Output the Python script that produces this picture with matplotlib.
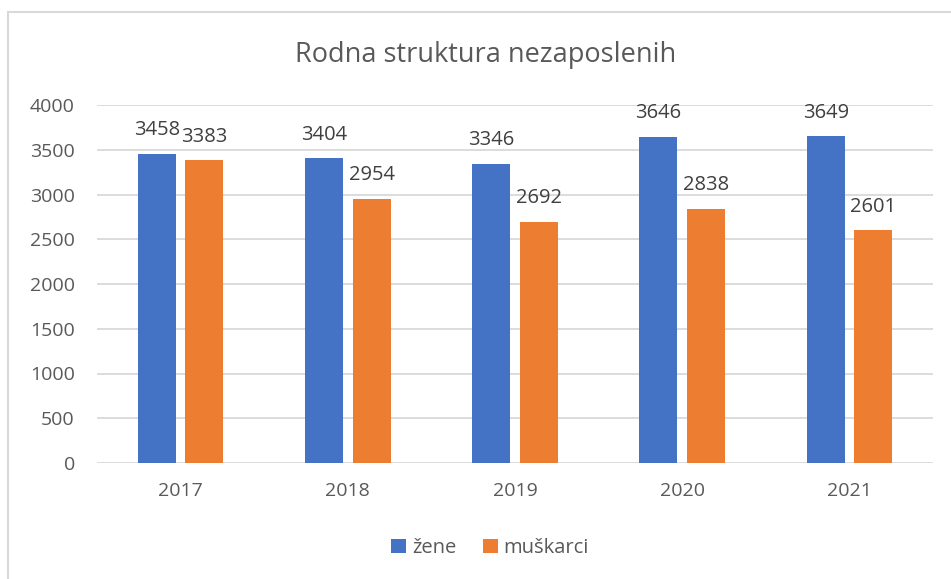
import matplotlib.pyplot as plt
import numpy as np
from matplotlib.patches import Rectangle

godine = ['2017', '2018', '2019', '2020', '2021']
zene = [3458, 3404, 3346, 3646, 3649]
muskarci = [3383, 2954, 2692, 2838, 2601]

plava = '#4472C4'
narandzasta = '#ED7D31'
siva_tekst = '#595959'
tamna_tekst = '#404040'
siva_mreza = '#D9D9D9'

plt.rcParams['font.family'] = ['Open Sans', 'DejaVu Sans']

fig = plt.figure(figsize=(9.51, 5.79), dpi=100)
ax = fig.add_axes([97 / 951, 1 - 463 / 579, 836 / 951, 358 / 579])

# okvir grafikona (odsečen desno i dole kao na slici)
fig.patches.append(Rectangle((8 / 951, -0.1), 1.2, (1 - 12 / 579) + 0.1,
                             transform=fig.transFigure, fill=False,
                             edgecolor=siva_mreza, linewidth=1.5))

x = np.arange(len(godine))
sirina = 0.227
pomak = 0.142
b1 = ax.bar(x - pomak, zene, sirina, color=plava, label='žene', zorder=3)
b2 = ax.bar(x + pomak, muskarci, sirina, color=narandzasta, label='muškarci', zorder=3)

for bars in (b1, b2):
    for b in bars:
        ax.annotate(str(int(b.get_height())),
                    (b.get_x() + b.get_width() / 2, b.get_height()),
                    xytext=(0, 17), textcoords='offset points',
                    ha='center', va='center', fontsize=14.5, color=tamna_tekst)

ax.set_xlim(-0.5, len(godine) - 0.5)
ax.set_ylim(0, 4000)
ax.set_yticks(range(0, 4001, 500))
ax.set_xticks(x)
ax.set_xticklabels(godine)
ax.tick_params(axis='both', length=0, labelsize=14, labelcolor=siva_tekst)
ax.tick_params(axis='y', pad=16)
ax.tick_params(axis='x', pad=14)
ax.grid(axis='y', color=siva_mreza, linewidth=1.3, zorder=0)
for s in ax.spines.values():
    s.set_visible(False)

fig.text(486 / 951, 1 - 55 / 579, 'Rodna struktura nezaposlenih',
         ha='center', va='center', fontsize=19.5, color=siva_tekst)

fig.legend(handles=[b1, b2], labels=['žene', 'muškarci'], loc='center',
           bbox_to_anchor=(490 / 951, 1 - 548 / 579), ncol=2, frameon=False,
           fontsize=14.5, labelcolor=siva_tekst, handlelength=0.75,
           handleheight=0.75, handletextpad=0.3, columnspacing=1.3)

fig.savefig('out.png', dpi=100)
